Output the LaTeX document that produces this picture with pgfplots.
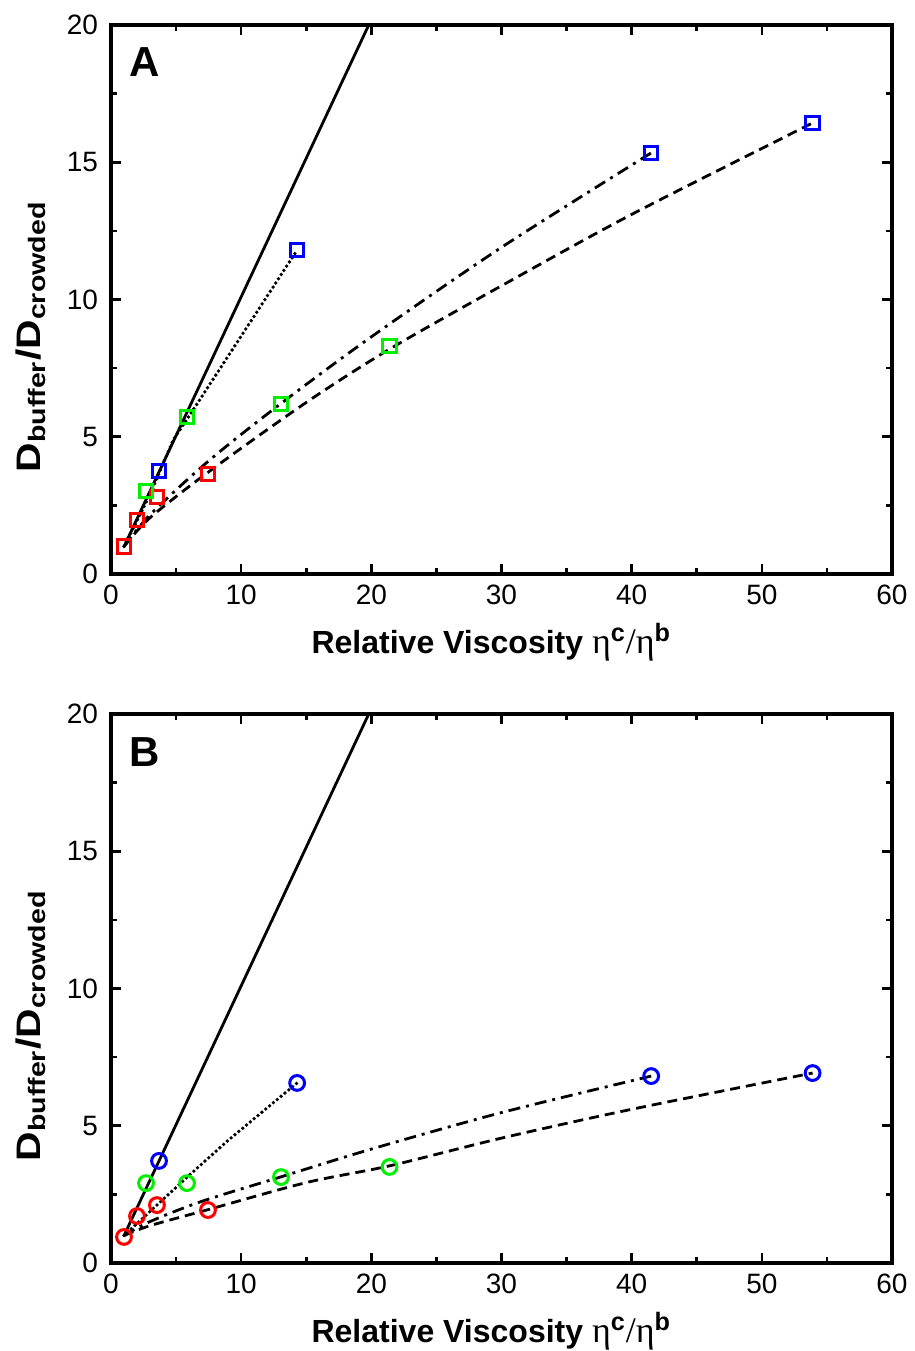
\documentclass[border=0pt]{standalone}
\usepackage{pgfplots}
\pgfplotsset{compat=1.18}
\usepackage{fontspec}
\setmainfont{Liberation Sans}
\newfontfamily\symfont{Liberation Serif}

\definecolor{pred}{RGB}{255,0,0}
\definecolor{pgreen}{RGB}{0,240,0}
\definecolor{pblue}{RGB}{0,0,255}

\pgfplotsset{
  panel/.style={
    width=390.5pt, height=274.5pt, scale only axis,
    xmin=0, xmax=60, ymin=0, ymax=20,
    xtick={0,10,...,60}, ytick={0,5,...,20},
    minor x tick num=1, minor y tick num=1,
    tick align=inside,
    xtick pos=both, ytick pos=both,
    xticklabel pos=lower, yticklabel pos=left,
    major tick length=5pt, minor tick length=3pt,
    axis line style={line width=1.6pt},
    tick style={line width=1.3pt, black},
    tick label style={font=\fontsize{14}{16}\selectfont},
    xticklabel style={yshift=-2pt},
    yticklabel style={xshift=-3pt},
    /pgf/number format/assume math mode=true,
    xlabel style={at={(axis description cs:0.487,0)}, anchor=center, yshift=-34pt,
      font=\fontsize{16}{18}\selectfont},
    ylabel style={at={(axis description cs:0,0.432)}, anchor=center, yshift=40pt,
      font=\fontsize{17}{19}\selectfont},
    xlabel={\textbf{Relative Viscosity} {\fontsize{18}{20}\selectfont\symfont η\textsuperscript{\fontspec{Liberation Sans Bold}c}/η\textsuperscript{\fontspec{Liberation Sans Bold}b}}},
    ylabel={\scalebox{1.2}[1]{\bfseries D\textsubscript{buffer}/D\textsubscript{crowded}}},
    clip=false,
  },
  sq/.style={only marks, mark=square, mark size=3.4pt, mark options={line width=1.5pt, draw=#1}},
  ci/.style={only marks, mark=o, mark size=3.7pt, mark options={line width=1.5pt, draw=#1}},
  fit/.style={black, line width=1.4pt, mark=none},
  dotfit/.style={black, line width=1.9pt, line cap=round, dash pattern=on 0pt off 2.5pt, mark=none},
}

\begin{document}
\begin{tikzpicture}
\useasboundingbox (-55.5pt,-388.5pt) rectangle (402pt,287pt);

% panel A
\begin{axis}[panel]
\addplot[fit] coordinates {(1,1) (19.8,20)};
\addplot[dotfit] coordinates {(1,1) (3,2.9) (4.8,4.9) (5.9,5.68) (14.3,11.8)};
\addplot[fit, smooth, dash pattern=on 6pt off 3pt on 1.5pt off 3pt] coordinates {(1,1) (3,2.16) (7.5,4.12) (13,6.19) (20,8.64) (30,11.9) (41.5,15.34)};
\addplot[fit, smooth, dash pattern=on 5pt off 3pt] coordinates {(1,1) (3,2.05) (7.5,3.72) (15,6.25) (21.5,8.22) (30,10.5) (40,13.1) (53.9,16.43)};
\addplot[sq=pred] coordinates {(1,1) (2,1.97) (3.53,2.8) (7.45,3.64)};
\addplot[sq=pgreen] coordinates {(2.69,3.02) (5.84,5.72) (13.06,6.19) (21.4,8.3)};
\addplot[sq=pblue] coordinates {(3.69,3.75) (14.3,11.8) (41.5,15.34) (53.9,16.43)};
\node[font=\fontsize{21}{24}\selectfont\bfseries] at (axis cs:2.6,18.65) {A};
\end{axis}

% panel B
\begin{axis}[panel, at={(0pt,-344.5pt)}]
\addplot[fit] coordinates {(1,1) (19.8,20)};
\addplot[dotfit] coordinates {(1,1) (3.53,2.11) (5.9,3.15) (9,4.47) (14.3,6.56)};
\addplot[fit, smooth, dash pattern=on 6pt off 3pt on 1.5pt off 3pt] coordinates {(1,1) (3,1.51) (7,2.25) (13,3.13) (20,4.15) (30,5.48) (41.5,6.81)};
\addplot[fit, smooth, dash pattern=on 5pt off 3pt] coordinates {(1,1) (3,1.36) (7.5,1.95) (15,2.93) (21.5,3.55) (30,4.55) (40,5.6) (53.9,6.92)};
\addplot[ci=pred] coordinates {(1,0.95) (2,1.71) (3.53,2.11) (7.45,1.93)};
\addplot[ci=pgreen] coordinates {(2.69,2.91) (5.84,2.91) (13.06,3.13) (21.4,3.5)};
\addplot[ci=pblue] coordinates {(3.69,3.72) (14.3,6.56) (41.5,6.81) (53.9,6.92)};
\node[font=\fontsize{21}{24}\selectfont\bfseries] at (axis cs:2.6,18.6) {B};
\end{axis}
\end{tikzpicture}
\end{document}
